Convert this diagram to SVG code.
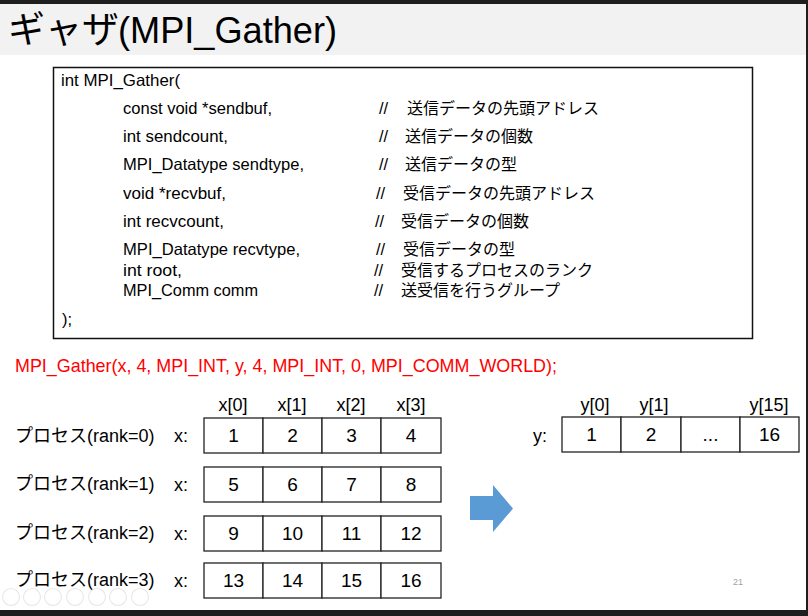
<svg xmlns="http://www.w3.org/2000/svg" width="808" height="616" viewBox="0 0 808 616">
  <style>
    text { font-family: "Liberation Sans", "Noto Sans CJK JP", sans-serif; fill: #000; }
    .code { font-size: 16.5px; }
    .jp { font-size: 16px; font-family: "Noto Sans CJK JP", sans-serif; }
    .lbl { font-size: 18px; }
    .num { font-size: 19px; text-anchor: middle; }
    .hdr { font-size: 18px; text-anchor: middle; }
    .cell { fill: #fff; stroke: #222; stroke-width: 1.3; }
    .ctl { fill: none; stroke: #e8e8e8; stroke-width: 1.1; }
  </style>

  <!-- frame -->
  <rect x="0" y="0" width="808" height="616" fill="#ffffff"/>
  <rect x="0" y="4" width="808" height="51" fill="#f2f2f2"/>
  <rect x="0" y="0" width="808" height="4" fill="#1e1e1e"/>
  <rect x="0" y="610" width="808" height="6" fill="#1e1e1e"/>
  <rect x="806" y="0" width="2" height="616" fill="#1e1e1e"/>

  <!-- title -->
  <g id="title">
    <text x="8" y="43" style="font-size:37px"><tspan font-family="Noto Sans CJK JP, sans-serif">ギャザ</tspan><tspan x="118" textLength="219" lengthAdjust="spacingAndGlyphs">(MPI_Gather)</tspan></text>
  </g>

  <!-- code box -->
  <g id="code-box">
    <rect x="53.5" y="67.5" width="699" height="271" fill="#fff" stroke="#111" stroke-width="1.5"/>
    <text class="code" x="61" y="86" textLength="119" lengthAdjust="spacingAndGlyphs">int MPI_Gather(</text>
    <text class="code" x="123" y="114" textLength="149" lengthAdjust="spacingAndGlyphs">const void *sendbuf,</text>
    <text class="code" x="123" y="142" textLength="105" lengthAdjust="spacingAndGlyphs">int sendcount,</text>
    <text class="code" x="123" y="170" textLength="181" lengthAdjust="spacingAndGlyphs">MPI_Datatype sendtype,</text>
    <text class="code" x="123" y="199" textLength="103" lengthAdjust="spacingAndGlyphs">void *recvbuf,</text>
    <text class="code" x="123" y="227" textLength="101" lengthAdjust="spacingAndGlyphs">int recvcount,</text>
    <text class="code" x="123" y="255" textLength="177" lengthAdjust="spacingAndGlyphs">MPI_Datatype recvtype,</text>
    <text class="code" x="123" y="276" textLength="59" lengthAdjust="spacingAndGlyphs">int root,</text>
    <text class="code" x="123" y="296" textLength="135" lengthAdjust="spacingAndGlyphs">MPI_Comm comm</text>
    <text class="code" x="62" y="325">);</text>

    <text class="code" x="379" y="114">//<tspan class="jp" x="407">送信データの先頭アドレス</tspan></text>
    <text class="code" x="379" y="142">//<tspan class="jp" x="405">送信データの個数</tspan></text>
    <text class="code" x="379" y="170">//<tspan class="jp" x="405">送信データの型</tspan></text>
    <text class="code" x="376" y="199">//<tspan class="jp" x="403">受信データの先頭アドレス</tspan></text>
    <text class="code" x="375" y="227">//<tspan class="jp" x="401">受信データの個数</tspan></text>
    <text class="code" x="376" y="255">//<tspan class="jp" x="403">受信データの型</tspan></text>
    <text class="code" x="374" y="276">//<tspan class="jp" x="401">受信するプロセスのランク</tspan></text>
    <text class="code" x="374" y="296">//<tspan class="jp" x="401">送受信を行うグループ</tspan></text>
  </g>

  <!-- call -->
  <g id="call">
    <text x="15" y="372" style="font-size:19px;fill:#ff0000" textLength="542" lengthAdjust="spacingAndGlyphs">MPI_Gather(x, 4, MPI_INT, y, 4, MPI_INT, 0, MPI_COMM_WORLD);</text>
  </g>

  <!-- x headers -->
  <g id="x-headers">
    <text class="hdr" x="233" y="411">x[0]</text>
    <text class="hdr" x="292" y="411">x[1]</text>
    <text class="hdr" x="351" y="411">x[2]</text>
    <text class="hdr" x="411" y="411">x[3]</text>
  </g>

  <!-- process rows -->
  <g id="rank0">
    <text class="lbl" x="15" y="442"><tspan font-family="Noto Sans CJK JP, sans-serif">プロセス</tspan>(rank=0)</text>
    <text class="lbl" x="174" y="442">x:</text>
    <rect class="cell" x="204" y="418" width="59" height="35"/>
    <rect class="cell" x="263" y="418" width="59" height="35"/>
    <rect class="cell" x="322" y="418" width="59" height="35"/>
    <rect class="cell" x="381" y="418" width="60" height="35"/>
    <text class="num" x="233.5" y="442">1</text>
    <text class="num" x="292.5" y="442">2</text>
    <text class="num" x="351.5" y="442">3</text>
    <text class="num" x="411" y="442">4</text>
  </g>
  <g id="rank1">
    <text class="lbl" x="15" y="490"><tspan font-family="Noto Sans CJK JP, sans-serif">プロセス</tspan>(rank=1)</text>
    <text class="lbl" x="174" y="491">x:</text>
    <rect class="cell" x="204" y="467" width="59" height="35"/>
    <rect class="cell" x="263" y="467" width="59" height="35"/>
    <rect class="cell" x="322" y="467" width="59" height="35"/>
    <rect class="cell" x="381" y="467" width="60" height="35"/>
    <text class="num" x="233.5" y="491">5</text>
    <text class="num" x="292.5" y="491">6</text>
    <text class="num" x="351.5" y="491">7</text>
    <text class="num" x="411" y="491">8</text>
  </g>
  <g id="rank2">
    <text class="lbl" x="15" y="539"><tspan font-family="Noto Sans CJK JP, sans-serif">プロセス</tspan>(rank=2)</text>
    <text class="lbl" x="174" y="540">x:</text>
    <rect class="cell" x="204" y="516" width="59" height="35"/>
    <rect class="cell" x="263" y="516" width="59" height="35"/>
    <rect class="cell" x="322" y="516" width="59" height="35"/>
    <rect class="cell" x="381" y="516" width="60" height="35"/>
    <text class="num" x="233.5" y="540">9</text>
    <text class="num" x="292.5" y="540">10</text>
    <text class="num" x="351.5" y="540">11</text>
    <text class="num" x="411" y="540">12</text>
  </g>
  <g id="rank3">
    <text class="lbl" x="15" y="586"><tspan font-family="Noto Sans CJK JP, sans-serif">プロセス</tspan>(rank=3)</text>
    <text class="lbl" x="174" y="587">x:</text>
    <rect class="cell" x="204" y="563" width="59" height="35"/>
    <rect class="cell" x="263" y="563" width="59" height="35"/>
    <rect class="cell" x="322" y="563" width="59" height="35"/>
    <rect class="cell" x="381" y="563" width="60" height="35"/>
    <text class="num" x="233.5" y="587">13</text>
    <text class="num" x="292.5" y="587">14</text>
    <text class="num" x="351.5" y="587">15</text>
    <text class="num" x="411" y="587">16</text>
  </g>

  <!-- y array -->
  <g id="y-array">
    <text class="hdr" x="595" y="411">y[0]</text>
    <text class="hdr" x="654" y="411">y[1]</text>
    <text class="hdr" x="769" y="411">y[15]</text>
    <text class="lbl" x="533" y="442">y:</text>
    <rect class="cell" x="562" y="417" width="59" height="35"/>
    <rect class="cell" x="621" y="417" width="60" height="35"/>
    <rect class="cell" x="681" y="417" width="59" height="35"/>
    <rect class="cell" x="740" y="417" width="59" height="35"/>
    <text class="num" x="591.5" y="441">1</text>
    <text class="num" x="651" y="441">2</text>
    <text class="num" x="710.5" y="441">...</text>
    <text class="num" x="769.5" y="441">16</text>
  </g>

  <!-- connectors -->
  <g id="connectors">
    <polygon points="470,496 493,496 493,485 513,508.5 493,532 493,520 470,520" fill="#5b9bd5"/>
  </g>

  <!-- page number -->
  <g id="page-number">
    <text x="733" y="585" style="font-size:9px;fill:#a0a0a0">21</text>
  </g>

  <!-- slideshow controls -->
  <g id="controls">
    <circle class="ctl" cx="11" cy="597" r="8.5"/>
    <circle class="ctl" cx="32" cy="597" r="8.5"/>
    <circle class="ctl" cx="53" cy="597" r="8.5"/>
    <circle class="ctl" cx="75" cy="597" r="8.5"/>
    <circle class="ctl" cx="97" cy="597" r="8.5"/>
    <circle class="ctl" cx="118" cy="597" r="8.5"/>
    <circle class="ctl" cx="140" cy="597" r="8.5"/>
  </g>
</svg>
